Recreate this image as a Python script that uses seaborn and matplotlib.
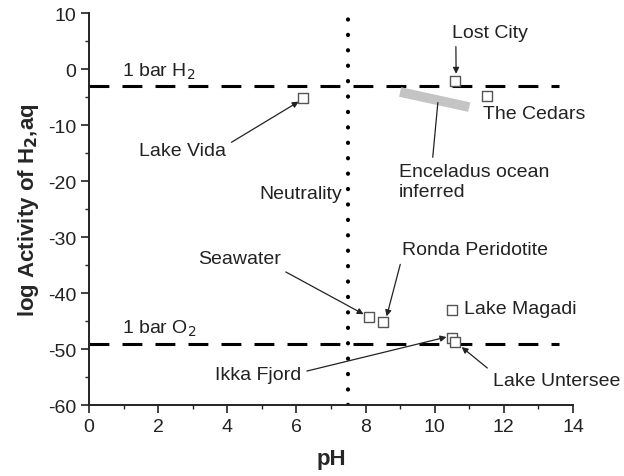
import matplotlib
matplotlib.use("Agg")
import matplotlib.pyplot as plt
import seaborn as sns
import pandas as pd

sites = ["Lost City", "The Cedars", "Lake Vida", "Seawater", "Ronda Peridotite",
         "Lake Magadi", "Ikka Fjord", "Lake Untersee"]
ph = [10.6, 11.5, 6.2, 8.1, 8.5, 10.5, 10.5, 10.6]
log_h2 = [-2.1, -4.8, -5.1, -44.3, -45.2, -43.0, -48.0, -48.8]

h2_ref = -3.1
o2_ref = -49.1
ref_ph_range = [0, 13.6]
neutral_ph = 7.5
neutral_range = [-60, 10]

enceladus_ph = [9.0, 11.0]
enceladus_h2 = [-4.1, -6.8]

sns.set_theme(style="ticks")
plt.rcParams['font.family'] = ['Liberation Sans', 'DejaVu Sans']
plt.rcParams['axes.unicode_minus'] = False

fig = plt.figure(figsize=(6.24, 4.77), dpi=100)
ax = fig.add_axes([0.1426, 0.1488, 0.7756, 0.8218])

# reference lines
ax.plot(ref_ph_range, [h2_ref, h2_ref], color="black", lw=2.2, dashes=(6.5, 4.3))
ax.plot(ref_ph_range, [o2_ref, o2_ref], color="black", lw=2.2, dashes=(6.5, 4.3))
ax.plot([neutral_ph, neutral_ph], neutral_range, color="black", lw=3.0,
        linestyle=(0, (0.05, 3.65)), dash_capstyle="round")

# Enceladus band
sns.lineplot(x=enceladus_ph, y=enceladus_h2, ax=ax, color="#c4c4c4", lw=7,
             solid_capstyle="butt")

df = pd.DataFrame({"site": sites, "pH": ph, "logH2": log_h2})
sns.scatterplot(data=df, x="pH", y="logH2", ax=ax, marker="s", s=45,
                facecolor="white", edgecolor="#555555", linewidth=1.0, zorder=5)

ax.set_xlim(0, 14)
ax.set_ylim(-60, 10)
ax.set_xticks(range(0, 15, 2))
ax.set_yticks(range(-60, 11, 10))
ax.set_xticks(range(0, 15, 1), minor=True)
ax.set_yticks(range(-60, 11, 5), minor=True)
ax.tick_params(axis="both", which="major", length=6, width=1.2, labelsize=14,
               color="#222222", labelcolor="#222222", pad=3)
ax.tick_params(axis="both", which="minor", length=3, width=1.0, color="#222222")
for sp in ["top", "right"]:
    ax.spines[sp].set_visible(False)
for sp in ["left", "bottom"]:
    ax.spines[sp].set_linewidth(1.4)
    ax.spines[sp].set_color("#222222")

ax.set_xlabel("pH", fontsize=16, fontweight="bold", labelpad=10)
ax.set_ylabel("log Activity of H$_\\mathbf{2}$,aq", fontsize=16, fontweight="bold", labelpad=5)

fs = 14
tc = "#222222"
ax.text(0.95, -0.4, "1 bar H$_2$", fontsize=fs, color=tc, va="center", ha="left")
ax.text(0.95, -46.2, "1 bar O$_2$", fontsize=fs, color=tc, va="center", ha="left")
ax.text(7.32, -22.3, "Neutrality", fontsize=fs, color=tc, va="center", ha="right")
ax.text(11.4, -8.0, "The Cedars", fontsize=fs, color=tc, va="center", ha="left")
ax.text(10.85, -42.7, "Lake Magadi", fontsize=fs, color=tc, va="center", ha="left")

arrow = dict(arrowstyle="-|>", color="#222222", lw=0.9, mutation_scale=9, shrinkA=2, shrinkB=1)
ax.annotate("Lost City", xy=(10.62, -1.1), xytext=(11.6, 6.6), fontsize=fs, color=tc,
            ha="center", va="center", arrowprops=dict(arrow, relpos=(0.05, 0.0)))
ax.annotate("Lake Vida", xy=(6.1, -5.7), xytext=(2.7, -14.6), fontsize=fs, color=tc,
            ha="center", va="center", arrowprops=dict(arrow, relpos=(1.0, 0.8)))
ax.annotate("Enceladus ocean\ninferred", xy=(10.1, -5.5), xytext=(8.97, -20.1), fontsize=fs,
            color=tc, ha="left", va="center", linespacing=1.2,
            arrowprops=dict(arrowstyle="-", color="#222222", lw=0.9, relpos=(0.22, 1.0)))
ax.annotate("Seawater", xy=(7.98, -43.9), xytext=(4.37, -33.9), fontsize=fs, color=tc,
            ha="center", va="center", arrowprops=dict(arrow, relpos=(0.95, 0.0)))
ax.annotate("Ronda Peridotite", xy=(8.6, -44.4), xytext=(9.05, -32.3), fontsize=fs, color=tc,
            ha="left", va="center", arrowprops=dict(arrow, relpos=(0.0, 0.0)))
ax.annotate("Ikka Fjord", xy=(10.38, -47.8), xytext=(6.13, -54.5), fontsize=fs, color=tc,
            ha="right", va="center", arrowprops=dict(arrow, relpos=(1.0, 0.6)))
ax.annotate("Lake Untersee", xy=(10.75, -49.5), xytext=(11.68, -55.7), fontsize=fs, color=tc,
            ha="left", va="center", arrowprops=dict(arrow, relpos=(0.0, 1.0)))

fig.savefig("out.png", dpi=100)
